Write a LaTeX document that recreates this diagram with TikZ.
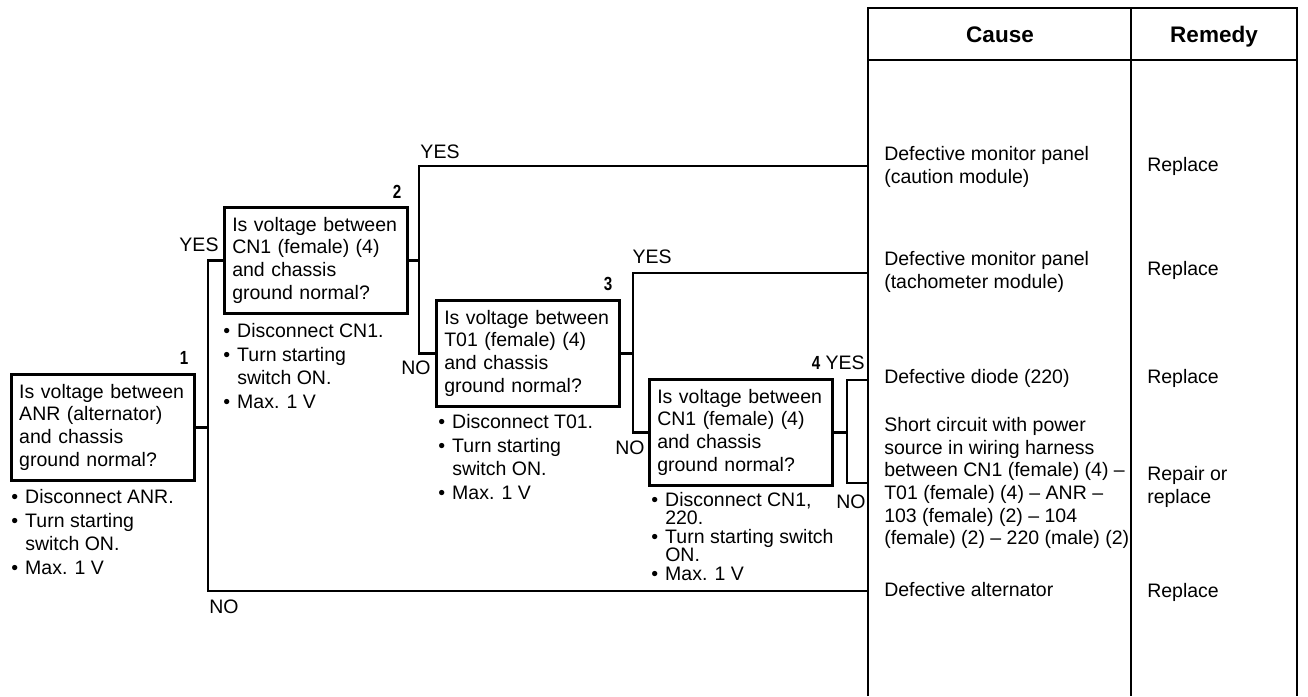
\documentclass[tikz,border=0pt]{standalone}
\usepackage{fontspec}
\setmainfont{Liberation Sans}
\newcommand{\bodyfont}{\fontsize{19.5}{22.7}\selectfont}
\newcommand{\stepfont}{\fontsize{19.5}{23.7}\selectfont}
\newcommand{\tsbul}{\makebox[14pt][l]{\textbullet}}
\newcommand{\tsind}{\makebox[14pt]{}}
\newcommand{\tsnum}[1]{\scalebox{0.8}[1]{#1}}
\tikzset{
  qbox/.style={draw, line width=2.5pt, anchor=north west, text width=167pt,
    inner xsep=8pt, minimum height=106pt, align=left, font=\bodyfont},
  steps/.style={anchor=north west, inner sep=0pt, align=left, font=\stepfont},
  cell/.style={anchor=west, inner sep=0pt, align=left, font=\bodyfont},
  lbl/.style={inner sep=0pt, font=\bodyfont},
  num/.style={inner sep=0pt, font=\fontsize{19}{19}\selectfont\bfseries},
  head/.style={inner sep=0pt, anchor=base, font=\fontsize{22.5}{22.5}\selectfont\bfseries}
}
\begin{document}
\begin{tikzpicture}[x=1pt, y=-1pt, line width=2.5pt]
\useasboundingbox (0,0) rectangle (1308,696);

% table
\draw (868,696) |- (1297,8) -- (1297,696);
\draw (1131,8) -- (1131,696);
\draw (868,60) -- (1297,60);
\node[head] (hcause) at (1000,42) {Cause};
\node[head] (hremedy) at (1214,42) {Remedy};

\coordinate (r1) at (868,166);
\coordinate (r2) at (868,273);
\coordinate (r3) at (868,380);
\coordinate (r4) at (868,483);
\coordinate (r5) at (868,591);

\node[cell] (c1) at (883,167) {Defective monitor panel\\(caution module)};
\node[cell] (c2) at (883,272) {Defective monitor panel\\(tachometer module)};
\node[cell] (c3) at (883,378) {Defective diode (220)};
\node[cell] (c4) at (883,483) {Short circuit with power\\source in wiring harness\\between CN1 (female) (4) –\\T01 (female) (4) – ANR –\\103 (female) (2) – 104\\(female) (2) – 220 (male) (2)};
\node[cell] (c5) at (883,590) {Defective alternator};

\node[cell] (m1) at (1146,166) {Replace};
\node[cell] (m2) at (1146,270) {Replace};
\node[cell] (m3) at (1146,378) {Replace};
\node[cell] (m4) at (1146,487) {Repair or\\replace};
\node[cell] (m5) at (1146,592) {Replace};

% check boxes
\node[qbox] (q1) at (10,373) {Is voltage between\\ANR (alternator)\\and chassis\\ground normal?};
\node[qbox] (q2) at (223,206) {Is voltage between\\CN1 (female) (4)\\and chassis\\ground normal?};
\node[qbox] (q3) at (435,299) {Is voltage between\\T01 (female) (4)\\and chassis\\ground normal?};
\node[qbox] (q4) at (648,378) {Is voltage between\\CN1 (female) (4)\\and chassis\\ground normal?};

\node[num] (k1) at (184,358) {\tsnum{1}};
\node[num] (k2) at (397,192) {\tsnum{2}};
\node[num] (k3) at (608,284) {\tsnum{3}};
\node[num] (k4) at (816,363) {\tsnum{4}};

\node[steps] (s1) at (10,488) {\tsbul Disconnect ANR.\\\tsbul Turn starting\\\tsind switch ON.\\\tsbul Max. 1 V};
\node[steps] (s2) at (222,322) {\tsbul Disconnect CN1.\\\tsbul Turn starting\\\tsind switch ON.\\\tsbul Max. 1 V};
\node[steps] (s3) at (437,413) {\tsbul Disconnect T01.\\\tsbul Turn starting\\\tsind switch ON.\\\tsbul Max. 1 V};
\node[steps, font=\fontsize{19.5}{18.5}\selectfont] (s4) at (650,491) {\tsbul Disconnect CN1,\\\tsind 220.\\\tsbul Turn starting switch\\\tsind ON.\\\tsbul Max. 1 V};

% connectors
\coordinate (j1) at (208,426);
\coordinate (j2) at (419,259);
\coordinate (j3) at (633,352);
\coordinate (j4) at (847,431);

\draw (q1.east) -- (q1.east -| j1);
\draw (q2.west) -| (j1) |- (r5);
\draw (q2.east) -- (q2.east -| j2);
\draw (r1) -| (j2) |- (q3.west);
\draw (q3.east) -- (q3.east -| j3);
\draw (r2) -| (j3) |- (q4.west);
\draw (q4.east) -- (q4.east -| j4);
\draw (r3) -| (j4) |- (r4);

\node[lbl] (y1) at (199,245) {YES};
\node[lbl] (n1) at (224,607) {NO};
\node[lbl] (y2) at (440,152) {YES};
\node[lbl] (n2) at (416,368) {NO};
\node[lbl] (y3) at (652,257) {YES};
\node[lbl] (n3) at (630,448) {NO};
\node[lbl] (y4) at (845,363) {YES};
\node[lbl] (n4) at (851,502) {NO};
\end{tikzpicture}
\end{document}
